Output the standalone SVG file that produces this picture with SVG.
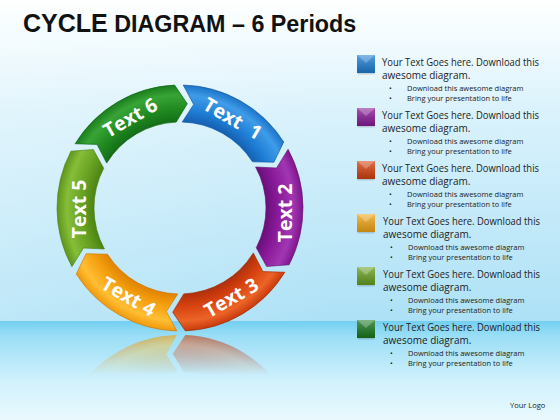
<svg xmlns="http://www.w3.org/2000/svg" xmlns:xlink="http://www.w3.org/1999/xlink" width="560" height="420" viewBox="0 0 560 420">
<style>
.title{font-family:"Liberation Sans",Arial,sans-serif;font-weight:bold;fill:#111}
.lbl{font-family:"Open Sans","Liberation Sans",sans-serif;font-weight:bold;font-size:19.5px;fill:#fff;text-anchor:middle;dominant-baseline:central}
.lt{font-family:"Open Sans","Liberation Sans",sans-serif;font-size:10px;fill:#222}
.bt{font-family:"Open Sans","Liberation Sans",sans-serif;font-size:7.5px;fill:#222}
.seg{stroke-width:0.6}
</style>
<defs>
<linearGradient id="bgTop" x1="0" y1="0" x2="0" y2="321" gradientUnits="userSpaceOnUse">
<stop offset="0" stop-color="#ffffff"/>
<stop offset="0.12" stop-color="#f2fbfe"/>
<stop offset="0.35" stop-color="#daf2fc"/>
<stop offset="1" stop-color="#ade1f6"/>
</linearGradient>
<linearGradient id="bgSide" x1="0" y1="0" x2="560" y2="0" gradientUnits="userSpaceOnUse">
<stop offset="0" stop-color="#ffffff" stop-opacity="0.2"/>
<stop offset="0.6" stop-color="#ffffff" stop-opacity="0"/>
</linearGradient>
<linearGradient id="bgBot" x1="0" y1="321" x2="0" y2="420" gradientUnits="userSpaceOnUse">
<stop offset="0" stop-color="#72cff0"/>
<stop offset="0.15" stop-color="#9adef6"/>
<stop offset="0.6" stop-color="#d0f1fc"/>
<stop offset="1" stop-color="#e9f9fe"/>
</linearGradient>
<radialGradient id="gBlue" cx="180" cy="208" r="123" gradientUnits="userSpaceOnUse">
<stop offset="0.70" stop-color="#1560b2"/><stop offset="0.8" stop-color="#1f7fd6"/><stop offset="0.92" stop-color="#3f9ce8"/><stop offset="1" stop-color="#1c74c8"/>
</radialGradient>
<radialGradient id="gPurple" cx="180" cy="208" r="123" gradientUnits="userSpaceOnUse">
<stop offset="0.70" stop-color="#6b0f7a"/><stop offset="0.8" stop-color="#8a1a9a"/><stop offset="0.92" stop-color="#a136b2"/><stop offset="1" stop-color="#7e168e"/>
</radialGradient>
<radialGradient id="gRed" cx="180" cy="208" r="123" gradientUnits="userSpaceOnUse">
<stop offset="0.70" stop-color="#b0300a"/><stop offset="0.8" stop-color="#d7420f"/><stop offset="0.92" stop-color="#ec6428"/><stop offset="1" stop-color="#c83a0c"/>
</radialGradient>
<radialGradient id="gOrange" cx="180" cy="208" r="123" gradientUnits="userSpaceOnUse">
<stop offset="0.70" stop-color="#e08400"/><stop offset="0.8" stop-color="#f5a010"/><stop offset="0.92" stop-color="#ffbe34"/><stop offset="1" stop-color="#f09a0c"/>
</radialGradient>
<radialGradient id="gLime" cx="180" cy="208" r="123" gradientUnits="userSpaceOnUse">
<stop offset="0.70" stop-color="#4d8414"/><stop offset="0.8" stop-color="#68a222"/><stop offset="0.92" stop-color="#86bd38"/><stop offset="1" stop-color="#5e961c"/>
</radialGradient>
<radialGradient id="gGreen" cx="180" cy="208" r="123" gradientUnits="userSpaceOnUse">
<stop offset="0.70" stop-color="#146e18"/><stop offset="0.8" stop-color="#1f891f"/><stop offset="0.92" stop-color="#38a436"/><stop offset="1" stop-color="#1b7e1d"/>
</radialGradient>
<path id="seg" d="M121.30,99.91 A123,123 0 0 1 236.79,98.90 L238.44,121.37 L219.71,131.72 A86,86 0 0 0 138.96,132.42 L140.01,111.45 Z"/>
<linearGradient id="sqShade" x1="0" y1="0" x2="0" y2="1">
<stop offset="0" stop-color="#ffffff" stop-opacity="0.25"/>
<stop offset="1" stop-color="#000000" stop-opacity="0.2"/>
</linearGradient>
<g id="sq">
<rect x="0" y="0" width="18" height="18" fill="url(#sqShade)"/>
<polygon points="0,0 18,0 9,8" fill="#ffffff" fill-opacity="0.25"/>
<rect x="0.5" y="18" width="17" height="1.5" fill="#000" fill-opacity="0.15"/>
</g>
<linearGradient id="reflFade" x1="0" y1="333" x2="0" y2="375" gradientUnits="userSpaceOnUse">
<stop offset="0" stop-color="#fff" stop-opacity="0.65"/>
<stop offset="1" stop-color="#fff" stop-opacity="0"/>
</linearGradient>
<mask id="reflMask" maskUnits="userSpaceOnUse" x="0" y="321" width="560" height="99">
<rect x="0" y="321" width="560" height="99" fill="url(#reflFade)"/>
</mask>
</defs>

<!-- background -->
<rect x="0" y="0" width="560" height="321" fill="url(#bgTop)"/>
<rect x="0" y="40" width="560" height="281" fill="url(#bgSide)"/>
<rect x="0" y="321" width="560" height="99" fill="url(#bgBot)"/>

<!-- title -->
<text class="title" x="23" y="32"><tspan font-size="25">CYCLE</tspan><tspan font-size="23.3"> DIAGRAM – 6 Periods</tspan></text>

<!-- reflection -->
<g mask="url(#reflMask)">
<g transform="translate(0,666) scale(1,-1)">
<use xlink:href="#seg" transform="rotate(150 180 208)" fill="url(#gRed)"/>
<use xlink:href="#seg" transform="rotate(210 180 208)" fill="url(#gOrange)"/>
</g>
</g>

<g id="connectors"/>

<!-- cycle nodes -->
<g id="node1">
<use xlink:href="#seg" class="seg" transform="rotate(30 180 208)" fill="url(#gBlue)" stroke="#125aa6"/>
<text class="lbl" transform="translate(233,118) rotate(30)" xml:space="preserve">Text  1</text>
</g>
<g id="node2">
<use xlink:href="#seg" class="seg" transform="rotate(90 180 208)" fill="url(#gPurple)" stroke="#600c6e"/>
<text class="lbl" transform="translate(284,213) rotate(-90)">Text 2</text>
</g>
<g id="node3">
<use xlink:href="#seg" class="seg" transform="rotate(150 180 208)" fill="url(#gRed)" stroke="#a02a06"/>
<text class="lbl" transform="translate(231,297) rotate(-30)">Text 3</text>
</g>
<g id="node4">
<use xlink:href="#seg" class="seg" transform="rotate(210 180 208)" fill="url(#gOrange)" stroke="#d07800"/>
<text class="lbl" transform="translate(129,296) rotate(30)">Text 4</text>
</g>
<g id="node5">
<use xlink:href="#seg" class="seg" transform="rotate(270 180 208)" fill="url(#gLime)" stroke="#467a10"/>
<text class="lbl" transform="translate(78,209) rotate(-90)">Text 5</text>
</g>
<g id="node6">
<use xlink:href="#seg" class="seg" transform="rotate(330 180 208)" fill="url(#gGreen)" stroke="#126414"/>
<text class="lbl" transform="translate(130,117) rotate(-30)">Text 6</text>
</g>

<!-- legend -->
<g id="legend1">
<rect x="357" y="55" width="18" height="18" fill="#1f7fd6"/><use xlink:href="#sq" x="357" y="55"/>
<text class="lt" x="382" y="65.5" textLength="157" lengthAdjust="spacingAndGlyphs">Your Text Goes here. Download this</text>
<text class="lt" x="382" y="79">awesome diagram.</text>
<text class="bt" x="389" y="91">•</text><text class="bt" x="407" y="91">Download this awesome diagram</text>
<text class="bt" x="389" y="101">•</text><text class="bt" x="407" y="101">Bring your presentation to life</text>
</g>
<g id="legend2">
<rect x="357" y="108" width="18" height="18" fill="#8a1a9a"/><use xlink:href="#sq" x="357" y="108"/>
<text class="lt" x="382" y="118.5" textLength="157" lengthAdjust="spacingAndGlyphs">Your Text Goes here. Download this</text>
<text class="lt" x="382" y="132">awesome diagram.</text>
<text class="bt" x="389" y="144">•</text><text class="bt" x="407" y="144">Download this awesome diagram</text>
<text class="bt" x="389" y="154">•</text><text class="bt" x="407" y="154">Bring your presentation to life</text>
</g>
<g id="legend3">
<rect x="357" y="161" width="18" height="18" fill="#d7420f"/><use xlink:href="#sq" x="357" y="161"/>
<text class="lt" x="382" y="171.5" textLength="157" lengthAdjust="spacingAndGlyphs">Your Text Goes here. Download this</text>
<text class="lt" x="382" y="185">awesome diagram.</text>
<text class="bt" x="389" y="197">•</text><text class="bt" x="407" y="197">Download this awesome diagram</text>
<text class="bt" x="389" y="207">•</text><text class="bt" x="407" y="207">Bring your presentation to life</text>
</g>
<g id="legend4">
<rect x="357" y="214" width="18" height="18" fill="#f5a818"/><use xlink:href="#sq" x="357" y="214"/>
<text class="lt" x="383" y="224.5" textLength="157" lengthAdjust="spacingAndGlyphs">Your Text Goes here. Download this</text>
<text class="lt" x="383" y="238">awesome diagram.</text>
<text class="bt" x="390" y="250">•</text><text class="bt" x="408" y="250">Download this awesome diagram</text>
<text class="bt" x="390" y="260">•</text><text class="bt" x="408" y="260">Bring your presentation to life</text>
</g>
<g id="legend5">
<rect x="357" y="267" width="18" height="18" fill="#68a222"/><use xlink:href="#sq" x="357" y="267"/>
<text class="lt" x="383" y="277.5" textLength="157" lengthAdjust="spacingAndGlyphs">Your Text Goes here. Download this</text>
<text class="lt" x="383" y="291">awesome diagram.</text>
<text class="bt" x="390" y="303">•</text><text class="bt" x="408" y="303">Download this awesome diagram</text>
<text class="bt" x="390" y="313">•</text><text class="bt" x="408" y="313">Bring your presentation to life</text>
</g>
<g id="legend6">
<rect x="357" y="320" width="18" height="18" fill="#1a7a1e"/><use xlink:href="#sq" x="357" y="320"/>
<text class="lt" x="383" y="330.5" textLength="157" lengthAdjust="spacingAndGlyphs">Your Text Goes here. Download this</text>
<text class="lt" x="383" y="344">awesome diagram.</text>
<text class="bt" x="390" y="356">•</text><text class="bt" x="408" y="356">Download this awesome diagram</text>
<text class="bt" x="390" y="366">•</text><text class="bt" x="408" y="366">Bring your presentation to life</text>
</g>

<text class="bt" x="510" y="408" font-size="7">Your Logo</text>
</svg>
